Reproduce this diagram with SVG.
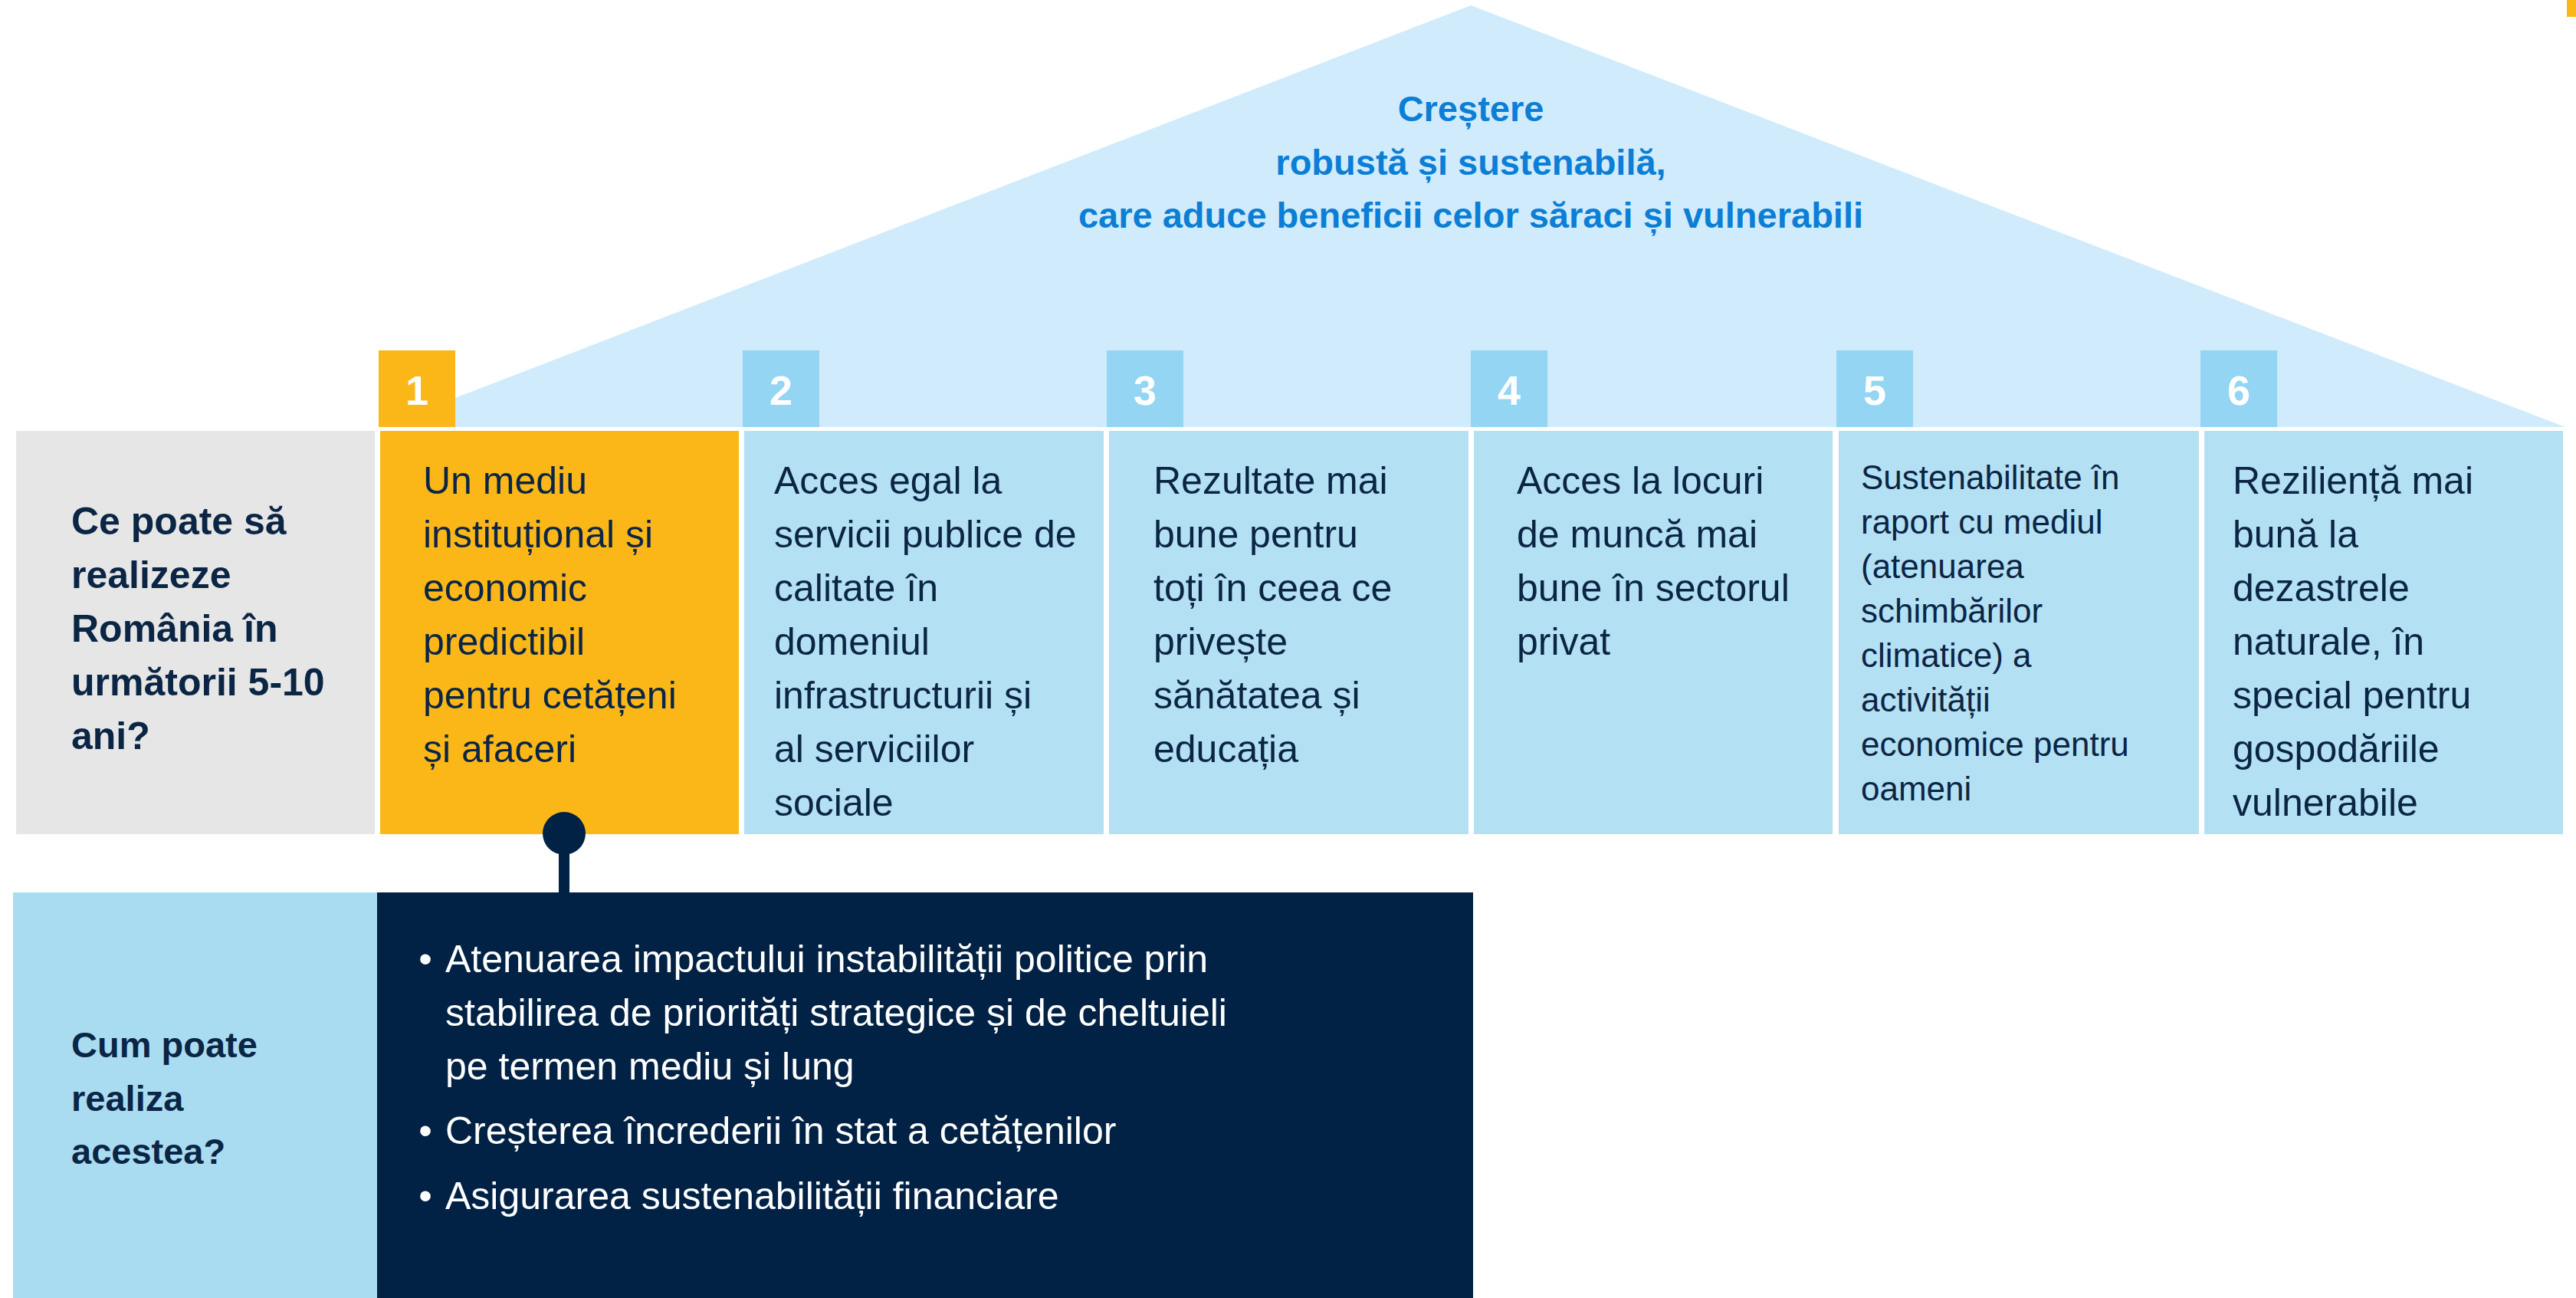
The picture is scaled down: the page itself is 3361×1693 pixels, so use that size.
<svg xmlns="http://www.w3.org/2000/svg" width="3361" height="1693" viewBox="0 0 3361 1693">
<style>
.t{font-family:"Liberation Sans",Arial,sans-serif;fill:#0b2545;font-size:50px}
.b{font-weight:bold}
.w{fill:#ffffff}
.num{font-family:"Liberation Sans",Arial,sans-serif;font-weight:bold;font-size:54px;fill:#ffffff;text-anchor:middle}
.title{font-family:"Liberation Sans",Arial,sans-serif;font-weight:bold;font-size:47px;fill:#0b7ed6;text-anchor:middle}
.col{fill:#b4e0f3}
.nb{fill:#94d5f3}
.small{font-size:44px}
.q2{font-size:47px}
</style>
<rect width="3361" height="1693" fill="#ffffff"/>
<rect x="3349" y="0" width="12" height="22" fill="#fbb718"/>

<g id="roof">
<polygon points="496,557 1919,7 3347,557" fill="#d0ebfc"/>
<text class="title" x="1919" y="158">Creștere</text>
<text class="title" x="1919" y="228">robustă și sustenabilă,</text>
<text class="title" x="1919" y="297">care aduce beneficii celor săraci și vulnerabili</text>
</g>

<g id="question1">
<rect x="21" y="562" width="468" height="526" fill="#e6e6e6"/>
<text class="t b" x="93" y="697">Ce poate să</text>
<text class="t b" x="93" y="767">realizeze</text>
<text class="t b" x="93" y="837">România în</text>
<text class="t b" x="93" y="907">următorii 5-10</text>
<text class="t b" x="93" y="977">ani?</text>
</g>

<g id="pillar1">
<rect x="494" y="457" width="100" height="100" fill="#fbb718"/>
<text class="num" x="544" y="528">1</text>
<rect x="496" y="562" width="468" height="526" fill="#fbb718"/>
<text class="t" x="552" y="644">Un mediu</text>
<text class="t" x="552" y="714">instituțional și</text>
<text class="t" x="552" y="784">economic</text>
<text class="t" x="552" y="854">predictibil</text>
<text class="t" x="552" y="924">pentru cetățeni</text>
<text class="t" x="552" y="994">și afaceri</text>
</g>

<g id="pillar2">
<rect x="969" y="457" width="100" height="100" class="nb"/>
<text class="num" x="1019" y="528">2</text>
<rect x="971" y="562" width="469" height="526" class="col"/>
<text class="t" x="1010" y="644">Acces egal la</text>
<text class="t" x="1010" y="714">servicii publice de</text>
<text class="t" x="1010" y="784">calitate în</text>
<text class="t" x="1010" y="854">domeniul</text>
<text class="t" x="1010" y="924">infrastructurii și</text>
<text class="t" x="1010" y="994">al serviciilor</text>
<text class="t" x="1010" y="1064">sociale</text>
</g>

<g id="pillar3">
<rect x="1444" y="457" width="100" height="100" class="nb"/>
<text class="num" x="1494" y="528">3</text>
<rect x="1447" y="562" width="469" height="526" class="col"/>
<text class="t" x="1505" y="644">Rezultate mai</text>
<text class="t" x="1505" y="714">bune pentru</text>
<text class="t" x="1505" y="784">toți în ceea ce</text>
<text class="t" x="1505" y="854">privește</text>
<text class="t" x="1505" y="924">sănătatea și</text>
<text class="t" x="1505" y="994">educația</text>
</g>

<g id="pillar4">
<rect x="1919" y="457" width="100" height="100" class="nb"/>
<text class="num" x="1969" y="528">4</text>
<rect x="1923" y="562" width="468" height="526" class="col"/>
<text class="t" x="1979" y="644">Acces la locuri</text>
<text class="t" x="1979" y="714">de muncă mai</text>
<text class="t" x="1979" y="784">bune în sectorul</text>
<text class="t" x="1979" y="854">privat</text>
</g>

<g id="pillar5">
<rect x="2396" y="457" width="100" height="100" class="nb"/>
<text class="num" x="2446" y="528">5</text>
<rect x="2399" y="562" width="470" height="526" class="col"/>
<text class="t small" x="2428" y="638">Sustenabilitate în</text>
<text class="t small" x="2428" y="696">raport cu mediul</text>
<text class="t small" x="2428" y="754">(atenuarea</text>
<text class="t small" x="2428" y="812">schimbărilor</text>
<text class="t small" x="2428" y="870">climatice) a</text>
<text class="t small" x="2428" y="928">activității</text>
<text class="t small" x="2428" y="986">economice pentru</text>
<text class="t small" x="2428" y="1044">oameni</text>
</g>

<g id="pillar6">
<rect x="2871" y="457" width="100" height="100" class="nb"/>
<text class="num" x="2921" y="528">6</text>
<rect x="2876" y="562" width="468" height="526" class="col"/>
<text class="t" x="2913" y="644">Reziliență mai</text>
<text class="t" x="2913" y="714">bună la</text>
<text class="t" x="2913" y="784">dezastrele</text>
<text class="t" x="2913" y="854">naturale, în</text>
<text class="t" x="2913" y="924">special pentru</text>
<text class="t" x="2913" y="994">gospodăriile</text>
<text class="t" x="2913" y="1064">vulnerabile</text>
</g>

<g id="question2">
<rect x="17" y="1164" width="476" height="529" fill="#a9dcf1"/>
<text class="t b q2" x="93" y="1379">Cum poate</text>
<text class="t b q2" x="93" y="1449">realiza</text>
<text class="t b q2" x="93" y="1518">acestea?</text>
</g>

<g id="actions1">
<rect x="492" y="1164" width="1430" height="529" fill="#012245"/>
<text class="t w" x="555" y="1268" text-anchor="middle">•</text>
<text class="t w" x="581" y="1268">Atenuarea impactului instabilității politice prin</text>
<text class="t w" x="581" y="1338">stabilirea de priorități strategice și de cheltuieli</text>
<text class="t w" x="581" y="1408">pe termen mediu și lung</text>
<text class="t w" x="555" y="1492" text-anchor="middle">•</text>
<text class="t w" x="581" y="1492">Creșterea încrederii în stat a cetățenilor</text>
<text class="t w" x="555" y="1577" text-anchor="middle">•</text>
<text class="t w" x="581" y="1577">Asigurarea sustenabilității financiare</text>
</g>

<g id="connectors">
<rect x="729" y="1100" width="14" height="66" fill="#012245"/>
<circle cx="736" cy="1087" r="28" fill="#012245"/>
</g>
</svg>
